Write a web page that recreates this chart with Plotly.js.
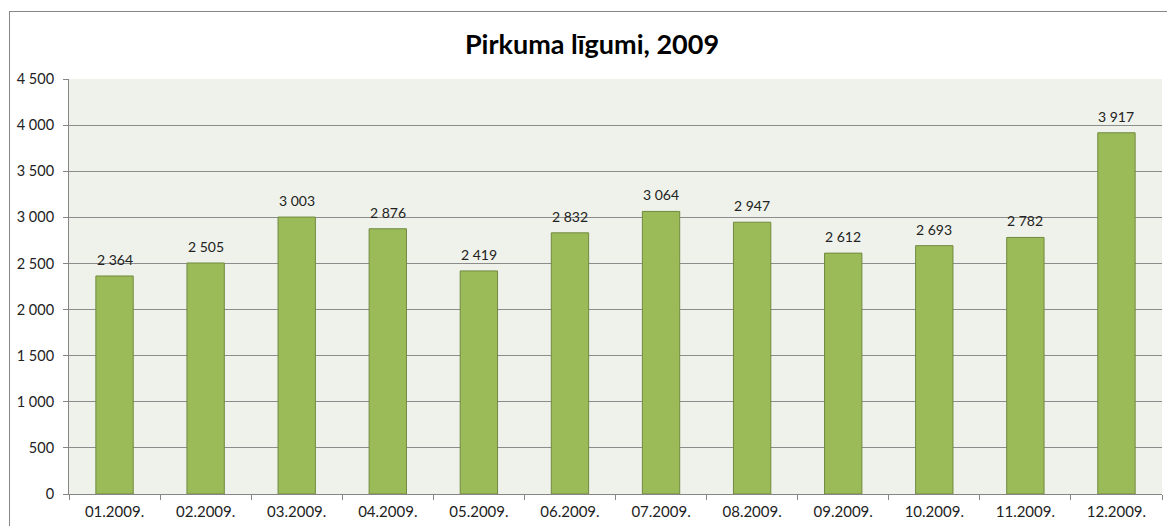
<!DOCTYPE html>
<html>
<head>
<meta charset="utf-8">
<script src="https://cdn.plot.ly/plotly-3.0.1.min.js"></script>
<style>
html,body{margin:0;padding:0;background:#fff;}
#wrap{position:relative;width:1167px;height:526px;overflow:hidden;}
#chart{width:1167px;height:526px;}
#frame{position:absolute;left:9px;top:11px;width:1200px;height:600px;border:1px solid #868686;pointer-events:none;}
</style>
</head>
<body>
<div id="wrap"><div id="chart"></div><div id="frame"></div></div>
<script>
const months = ["01.2009.","02.2009.","03.2009.","04.2009.","05.2009.","06.2009.","07.2009.","08.2009.","09.2009.","10.2009.","11.2009.","12.2009."];
const contracts = [2364, 2505, 3003, 2876, 2419, 2832, 3064, 2947, 2612, 2693, 2782, 3917];
const yTicks = [0,500,1000,1500,2000,2500,3000,3500,4000,4500];
const fmt = v => String(v).replace(/\B(?=(\d{3})+(?!\d))/g, " ");

const trace = {
  type: "bar",
  x: months,
  y: contracts,
  marker: {color: "#9bbb59", line: {color: "#71893f", width: 1}},
  hoverinfo: "x+y"
};

const labels = months.map((m, i) => ({
  x: m, y: contracts[i], xref: "x", yref: "y",
  text: fmt(contracts[i]), showarrow: false,
  yanchor: "bottom", yshift: 6,
  font: {family: "Lato, sans-serif", size: 14, color: "#222"}
}));

const layout = {
  width: 1167, height: 526,
  margin: {l: 69, r: 5, t: 79, b: 32},
  paper_bgcolor: "#ffffff",
  plot_bgcolor: "#eff2ea",
  bargap: 0.59,
  showlegend: false,
  font: {family: "Lato, sans-serif", size: 14, color: "#222"},
  annotations: labels,
  title: {
    text: "<b>Pirkuma līgumi, 2009</b>",
    font: {family: "Lato, sans-serif", size: 27, color: "#000"},
    x: 592/1167, xref: "container", xanchor: "center",
    y: 1 - 45/526, yref: "container", yanchor: "middle"
  },
  xaxis: {
    type: "category",
    showline: true, linecolor: "#868686", linewidth: 1,
    ticks: "outside", tickson: "boundaries", ticklen: 5, tickcolor: "#868686",
    ticklabelstandoff: 4,
    showgrid: false,
    tickfont: {family: "Lato, sans-serif", size: 15, color: "#222"}
  },
  yaxis: {
    range: [0, 4500],
    tickvals: yTicks,
    ticktext: yTicks.map(fmt),
    showline: true, linecolor: "#868686", linewidth: 1,
    ticks: "outside", ticklen: 5, tickcolor: "#868686",
    ticklabelstandoff: 6,
    showgrid: true, gridcolor: "#8c8c8c", gridwidth: 1,
    zeroline: false,
    tickfont: {family: "Lato, sans-serif", size: 14.5, color: "#222"}
  }
};

Plotly.newPlot("chart", [trace], layout, {displayModeBar: false, staticPlot: true});
</script>
</body>
</html>
